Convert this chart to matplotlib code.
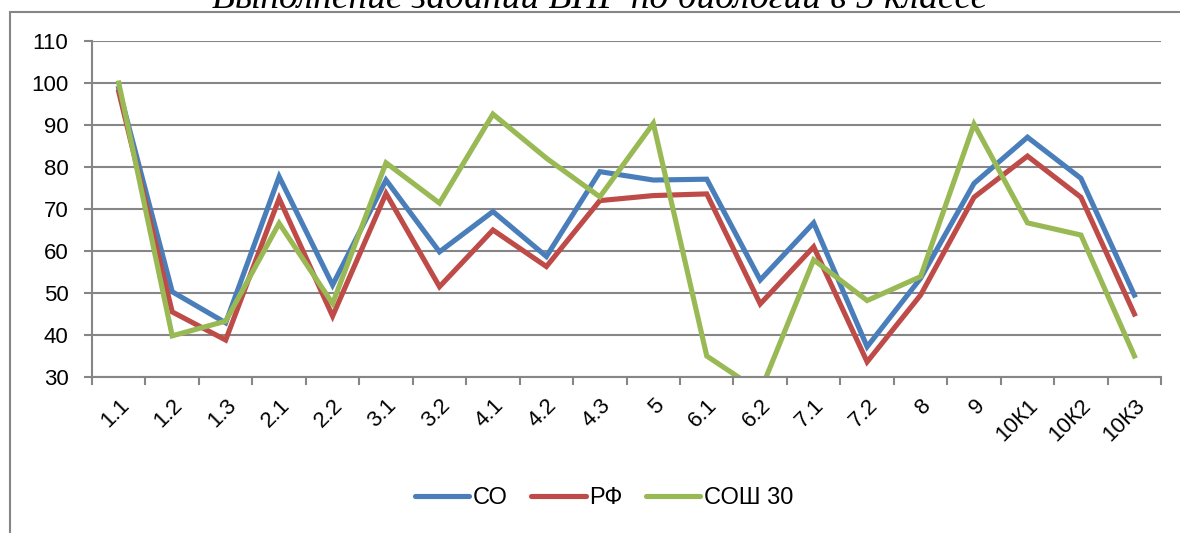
import matplotlib.pyplot as plt
from matplotlib.patches import Rectangle

plt.rcParams['font.family'] = ['Liberation Sans', 'DejaVu Sans']

# --- данные ---
tasks = ['1.1', '1.2', '1.3', '2.1', '2.2', '3.1', '3.2', '4.1', '4.2', '4.3',
         '5', '6.1', '6.2', '7.1', '7.2', '8', '9', '10К1', '10К2', '10К3']
so = [98.7, 50.3, 42.9, 77.7, 51.9, 76.9, 59.8, 69.4, 58.7, 78.9,
      76.9, 77.1, 53.1, 66.7, 37.2, 53.5, 76.1, 87.1, 77.3, 49.5]
rf = [97.9, 45.5, 38.8, 72.5, 44.5, 73.7, 51.5, 65.0, 56.3, 72.0,
      73.2, 73.6, 47.4, 61.0, 33.6, 49.5, 72.8, 82.6, 72.8, 45.0]
sosh30 = [100.0, 39.8, 43.3, 66.6, 47.5, 81.0, 71.4, 92.6, 82.1, 72.9,
          90.4, 35.0, 26.5, 57.9, 48.2, 53.9, 90.2, 66.7, 63.8, 35.0]

series = [('СО', so, '#4A7EBB'), ('РФ', rf, '#BE4B48'), ('СОШ 30', sosh30, '#98B954')]
grid_col = '#868686'

fig = plt.figure(figsize=(11.8, 5.33), dpi=100)
ax = fig.add_axes([0.078, 0.2927, 0.906, 0.6303])

x = list(range(len(tasks)))
for name, vals, col in series:
    ax.plot(x, vals, color=col, lw=3.7, label=name, solid_joinstyle='miter')

ax.set_xlim(-0.5, len(tasks) - 0.5)
ax.set_ylim(30, 110)
ax.set_yticks(range(30, 111, 10))
ax.set_xticks(x)
ax.set_xticklabels(tasks, rotation=45, ha='right', va='top', rotation_mode='anchor')
ax.set_xticks([i - 0.5 for i in range(len(tasks) + 1)], minor=True)

ax.grid(axis='y', color=grid_col, lw=1.5)
ax.set_axisbelow(True)
for s in ['top', 'right']:
    ax.spines[s].set_visible(False)
for s in ['left', 'bottom']:
    ax.spines[s].set_color(grid_col)
    ax.spines[s].set_linewidth(1.5)

ax.tick_params(axis='x', which='major', length=0, pad=13, labelsize=16)
ax.tick_params(axis='x', which='minor', length=6, width=1.5, color=grid_col)
ax.tick_params(axis='y', length=6, width=1.5, color=grid_col, pad=11, labelsize=16)

leg = fig.legend(loc='center', bbox_to_anchor=(0.512, 0.066), ncol=3, frameon=False,
                 fontsize=17, handlelength=2.3, handletextpad=0.15, columnspacing=1.0)
for h in leg.get_lines():
    h.set_solid_capstyle('round')

# рамка диаграммы
fig.add_artist(Rectangle((10 / 1180, -0.1), 1.2, 0.1 + 1 - 12 / 533,
                         transform=fig.transFigure, fill=False,
                         edgecolor=grid_col, lw=1.5))

# заголовок, обрезанный сверху
fig.text(0.508, 1 - 8 / 533, 'Выполнение заданий ВПР по биологии в 5 классе',
         ha='center', va='baseline', fontsize=27, style='italic',
         family=['Liberation Serif', 'DejaVu Serif'])

fig.savefig('out.png', dpi=100)
